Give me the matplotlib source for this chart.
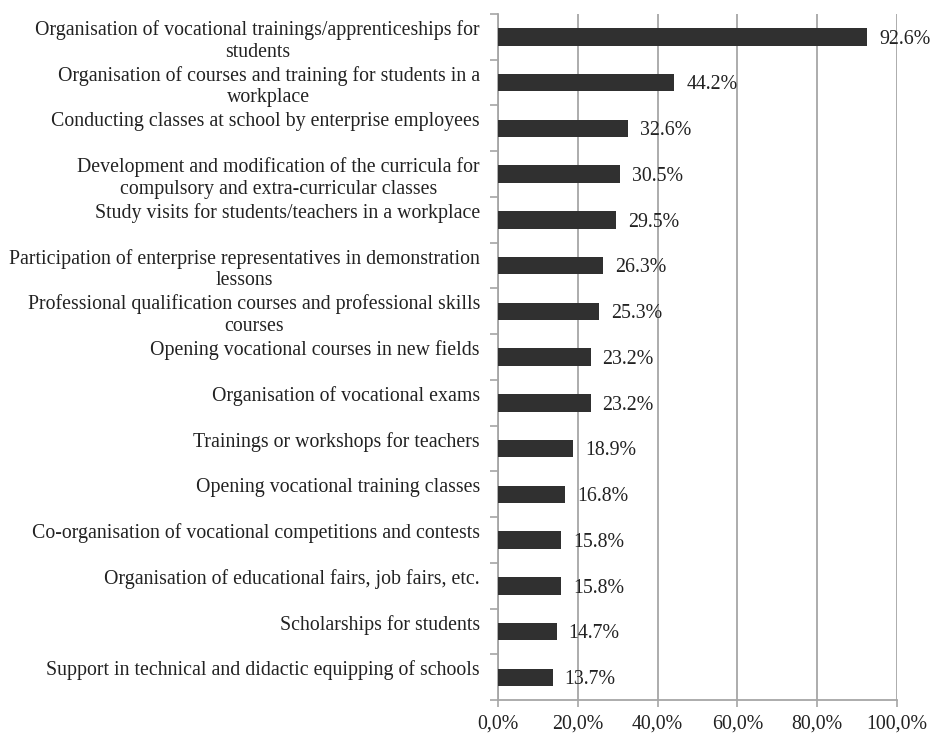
import numpy as np
import matplotlib
matplotlib.use("Agg")
import matplotlib.pyplot as plt
from matplotlib.ticker import FixedLocator, FuncFormatter

plt.rcParams['font.family'] = ['Liberation Serif', 'DejaVu Serif']

# Forms of cooperation, top to bottom
categories = [
    "Organisation of vocational trainings/apprenticeships for\nstudents",
    "Organisation of courses and training for students in a\nworkplace",
    "Conducting classes at school by enterprise employees",
    "Development and modification of the curricula for\ncompulsory and extra-curricular classes",
    "Study visits for students/teachers in a workplace",
    "Participation of enterprise representatives in demonstration\nlessons",
    "Professional qualification courses and professional skills\ncourses",
    "Opening vocational courses in new fields",
    "Organisation of vocational exams",
    "Trainings or workshops for teachers",
    "Opening vocational training classes",
    "Co-organisation of vocational competitions and contests",
    "Organisation of educational fairs, job fairs, etc.",
    "Scholarships for students",
    "Support in technical and didactic equipping of schools",
]
shares = [92.6, 44.2, 32.6, 30.5, 29.5, 26.3, 25.3, 23.2, 23.2, 18.9, 16.8, 15.8, 15.8, 14.7, 13.7]
x_ticks = [0, 20, 40, 60, 80, 100]

grid_col = "#a6a6a6"
bar_col = "#303030"
fs = 14.35

fig = plt.figure(figsize=(9.32, 7.34), dpi=100)
ax = fig.add_axes([0.5343, 0.046, 0.4281, 0.935])

y = np.arange(len(categories))
ax.barh(y, shares, height=0.38, color=bar_col, zorder=3)

for yi, v in zip(y, shares):
    ax.text(v + 3.0, yi + 0.05, f"{v:.1f}%", va="center", ha="left",
            fontsize=fs, color="#222222", zorder=4)

ax.set_xlim(0, 100)
ax.set_ylim(len(categories) - 0.5, -0.5)

ax.xaxis.set_major_locator(FixedLocator(x_ticks))
ax.xaxis.set_major_formatter(FuncFormatter(lambda v, p: f"{v:.1f}%".replace(".", ",")))
ax.grid(axis="x", color=grid_col, linewidth=1.3, zorder=0)

# single-line labels get a trailing blank line so they sit above the bar
labels = [c if "\n" in c else c + "\n" for c in categories]
ax.set_yticks(y)
ax.set_yticklabels(labels, fontsize=fs, ha="right", multialignment="center",
                   linespacing=1.2)
ax.yaxis.set_minor_locator(FixedLocator(np.arange(-0.5, len(categories), 1.0)))
ax.tick_params(axis="y", which="major", length=0, pad=13, colors="#222222")
ax.tick_params(axis="y", which="minor", length=6, width=1.2, color=grid_col)
ax.tick_params(axis="x", which="major", length=5, width=1.2, color=grid_col,
               labelsize=fs, labelcolor="#222222", pad=5)

for side in ["top", "right"]:
    ax.spines[side].set_visible(False)
for side in ["left", "bottom"]:
    ax.spines[side].set_color(grid_col)
    ax.spines[side].set_linewidth(1.3)

fig.savefig("out.png", dpi=100)
